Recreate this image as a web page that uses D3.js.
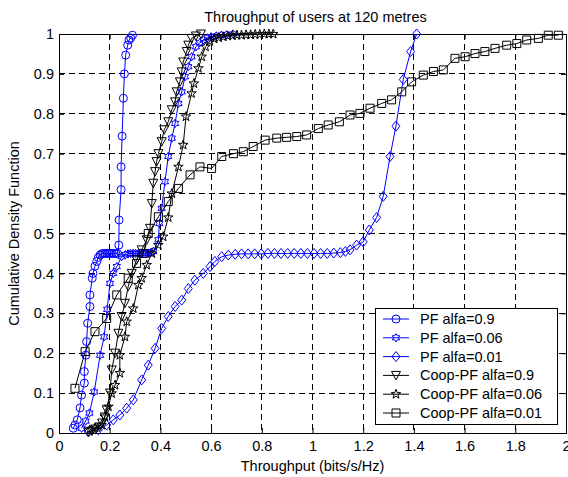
<!DOCTYPE html>
<html>
<head>
<meta charset="utf-8">
<script src="https://cdn.jsdelivr.net/npm/d3@7"></script>
<style>
body { margin: 0; background: #fff; }
text { font-family: "Liberation Sans", Arial, sans-serif; }
</style>
</head>
<body>
<div id="chart"></div>
<script>
// data
var xTicks = [0, 0.2, 0.4, 0.6, 0.8, 1, 1.2, 1.4, 1.6, 1.8, 2];
var yTicks = [0, 0.1, 0.2, 0.3, 0.4, 0.5, 0.6, 0.7, 0.8, 0.9, 1];

var pf09x = [0.056, 0.063, 0.072, 0.083, 0.089, 0.1, 0.1, 0.106, 0.109, 0.113, 0.122, 0.122, 0.131, 0.134, 0.142, 0.149, 0.155, 0.162,
  0.168, 0.175, 0.182, 0.189, 0.196, 0.203, 0.21, 0.217, 0.224, 0.231, 0.236,
  0.237, 0.245, 0.245, 0.249, 0.254, 0.258, 0.263, 0.271, 0.276, 0.283, 0.29];
var pf09y = [0.012, 0.02, 0.033, 0.063, 0.095, 0.125, 0.154, 0.195, 0.229, 0.275, 0.317, 0.346, 0.388, 0.4, 0.418, 0.43, 0.44, 0.446,
  0.449, 0.45, 0.45, 0.45, 0.45, 0.45, 0.45, 0.45, 0.45, 0.45, 0.471,
  0.534, 0.61, 0.667, 0.744, 0.839, 0.9, 0.947, 0.972, 0.985, 0.99, 0.997];

var pf006x = [0.089, 0.105, 0.12, 0.139, 0.162, 0.178, 0.19, 0.201, 0.214, 0.228, 0.247,
  0.262, 0.272, 0.282, 0.292, 0.302, 0.312, 0.322, 0.332, 0.342, 0.352, 0.362, 0.372,
  0.392, 0.396, 0.405, 0.418, 0.431, 0.445, 0.458, 0.471, 0.484, 0.497, 0.51, 0.523, 0.54,
  0.555, 0.57, 0.585, 0.6, 0.62, 0.64, 0.66, 0.687];
var pf006y = [0.012, 0.03, 0.05, 0.103, 0.195, 0.241, 0.31, 0.375, 0.4, 0.417, 0.442,
  0.447, 0.449, 0.45, 0.45, 0.45, 0.45, 0.45, 0.45, 0.45, 0.451, 0.452, 0.455,
  0.484, 0.525, 0.563, 0.63, 0.693, 0.739, 0.776, 0.826, 0.855, 0.893, 0.918, 0.943, 0.968,
  0.978, 0.985, 0.99, 0.993, 0.995, 0.997, 0.998, 1];

var pf001x = [0.116, 0.155, 0.188, 0.214, 0.24, 0.267, 0.293, 0.326, 0.352, 0.379, 0.405, 0.431, 0.458, 0.484,
  0.51, 0.536, 0.569, 0.596, 0.615, 0.642, 0.668, 0.695, 0.72, 0.746, 0.772, 0.798, 0.824, 0.85, 0.876,
  0.902, 0.928, 0.954, 0.98, 1.006, 1.032, 1.058, 1.084, 1.11, 1.13, 1.148, 1.174, 1.2, 1.224, 1.253,
  1.279, 1.306, 1.329, 1.358, 1.387, 1.411];
var pf001y = [0.003, 0.008, 0.02, 0.033, 0.045, 0.062, 0.083, 0.133, 0.17, 0.212, 0.262, 0.292, 0.317, 0.333,
  0.362, 0.383, 0.4, 0.417, 0.43, 0.442, 0.446, 0.448, 0.449, 0.449, 0.449, 0.449, 0.45, 0.45, 0.45,
  0.45, 0.45, 0.45, 0.45, 0.45, 0.45, 0.45, 0.451, 0.452, 0.455, 0.459, 0.471, 0.479, 0.509, 0.54,
  0.593, 0.693, 0.769, 0.886, 0.956, 1];

var coop09x = [0.115, 0.13, 0.145, 0.16, 0.17, 0.18, 0.188, 0.201, 0.208, 0.221, 0.234, 0.247, 0.26, 0.273,
  0.287, 0.306, 0.326, 0.346, 0.359, 0.366, 0.372, 0.379, 0.385, 0.392, 0.405, 0.415, 0.431, 0.445,
  0.458, 0.464, 0.477, 0.484, 0.49, 0.504, 0.51, 0.523, 0.54, 0.56];
var coop09y = [0.003, 0.005, 0.01, 0.015, 0.025, 0.04, 0.058, 0.1, 0.158, 0.2, 0.25, 0.292, 0.325, 0.367,
  0.4, 0.434, 0.459, 0.484, 0.513, 0.575, 0.626, 0.655, 0.68, 0.7, 0.73, 0.76, 0.78, 0.81,
  0.83, 0.855, 0.88, 0.905, 0.93, 0.956, 0.972, 0.989, 0.995, 1];

var coop006x = [0.122, 0.142, 0.168, 0.181, 0.195, 0.208, 0.221, 0.24, 0.24, 0.26, 0.267, 0.293, 0.313,
  0.326, 0.346, 0.366, 0.392, 0.411, 0.431, 0.445, 0.471, 0.49, 0.501, 0.523, 0.532, 0.55, 0.563,
  0.578, 0.595, 0.612, 0.63, 0.648, 0.666, 0.684, 0.702, 0.72, 0.738, 0.756, 0.774, 0.792, 0.81, 0.828, 0.845];
var coop006y = [0.008, 0.013, 0.02, 0.041, 0.066, 0.099, 0.12, 0.15, 0.195, 0.241, 0.279, 0.312, 0.371,
  0.388, 0.421, 0.45, 0.471, 0.492, 0.54, 0.6, 0.667, 0.722, 0.793, 0.851, 0.876, 0.914, 0.943,
  0.968, 0.982, 0.988, 0.991, 0.993, 0.995, 0.996, 0.997, 0.997, 0.998, 0.998, 0.999, 0.999, 1, 1, 1];

var coop001x = [0.063, 0.103, 0.142, 0.188, 0.228, 0.273, 0.306, 0.333, 0.352, 0.392, 0.431, 0.471, 0.517,
  0.556, 0.602, 0.642, 0.688, 0.727, 0.766, 0.813, 0.859, 0.898, 0.938, 0.977, 1.023, 1.062, 1.106,
  1.148, 1.187, 1.227, 1.273, 1.312, 1.352, 1.391, 1.437, 1.477, 1.516, 1.562, 1.602, 1.641, 1.68,
  1.72, 1.766, 1.806, 1.845, 1.891, 1.93, 1.97];
var coop001y = [0.112, 0.204, 0.254, 0.287, 0.346, 0.388, 0.425, 0.45, 0.5, 0.542, 0.58, 0.613, 0.647,
  0.667, 0.663, 0.693, 0.7, 0.705, 0.718, 0.734, 0.739, 0.741, 0.743, 0.747, 0.763, 0.772, 0.78,
  0.797, 0.801, 0.814, 0.826, 0.835, 0.855, 0.88, 0.897, 0.906, 0.91, 0.939, 0.943, 0.951, 0.956,
  0.964, 0.972, 0.976, 0.985, 0.989, 0.997, 0.997];

var seriesNames = ["PF alfa=0.9", "PF alfa=0.06", "PF alfa=0.01", "Coop-PF alfa=0.9", "Coop-PF alfa=0.06", "Coop-PF alfa=0.01"];

var series = [
  {name: seriesNames[0], xs: pf09x, ys: pf09y, color: "#0000ff", marker: "circle"},
  {name: seriesNames[1], xs: pf006x, ys: pf006y, color: "#0000ff", marker: "hexagram"},
  {name: seriesNames[2], xs: pf001x, ys: pf001y, color: "#0000ff", marker: "diamond"},
  {name: seriesNames[3], xs: coop09x, ys: coop09y, color: "#000000", marker: "triangle"},
  {name: seriesNames[4], xs: coop006x, ys: coop006y, color: "#000000", marker: "pentagram"},
  {name: seriesNames[5], xs: coop001x, ys: coop001y, color: "#000000", marker: "square"}
];

var fontSize = 14.5;

var margin = {top: 34, right: 2, bottom: 44, left: 59},
  width = 568 - margin.left - margin.right,
  height = 477 - margin.top - margin.bottom;

var svg = d3.select("#chart").append("svg")
  .attr("width", 568)
  .attr("height", 477);

var g = svg.append("g")
  .attr("transform", "translate(" + margin.left + "," + margin.top + ")");

var x = d3.scaleLinear().domain([0, 2]).range([0, width]);
var y = d3.scaleLinear().domain([0, 1]).range([height, 0]);

// marker paths centred on 0,0
function markerPath(type) {
  var p = d3.path();
  if (type == "circle") {
    p.arc(0, 0, 4, 0, 2 * Math.PI);
  } else if (type == "square") {
    p.rect(-4, -4, 8, 8);
  } else if (type == "diamond") {
    p.moveTo(0, -5); p.lineTo(4, 0); p.lineTo(0, 5); p.lineTo(-4, 0); p.closePath();
  } else if (type == "triangle") {
    p.moveTo(-4.5, -4); p.lineTo(4.5, -4); p.lineTo(0, 4.5); p.closePath();
  } else if (type == "hexagram") {
    var r = 4.2;
    for (var k = 0; k < 12; k++) {
      var rr = (k % 2 == 0) ? r : r / Math.sqrt(3);
      var a = -Math.PI / 2 + k * Math.PI / 6;
      if (k == 0) p.moveTo(rr * Math.cos(a), rr * Math.sin(a));
      else p.lineTo(rr * Math.cos(a), rr * Math.sin(a));
    }
    p.closePath();
  } else if (type == "pentagram") {
    var R = 5, ri = 2;
    for (var k = 0; k < 10; k++) {
      var rr = (k % 2 == 0) ? R : ri;
      var a = -Math.PI / 2 + k * Math.PI / 5;
      if (k == 0) p.moveTo(rr * Math.cos(a), rr * Math.sin(a));
      else p.lineTo(rr * Math.cos(a), rr * Math.sin(a));
    }
    p.closePath();
  }
  return p.toString();
}

// grid
g.append("g").selectAll("line.gx")
  .data(xTicks.slice(1, -1))
  .enter().append("line")
  .attr("x1", function(d) { return x(d); })
  .attr("x2", function(d) { return x(d); })
  .attr("y1", 0).attr("y2", height)
  .attr("stroke", "#000").attr("stroke-width", 1)
  .attr("stroke-dasharray", "6,4")
  .attr("shape-rendering", "crispEdges");

g.append("g").selectAll("line.gy")
  .data(yTicks.slice(1, -1))
  .enter().append("line")
  .attr("y1", function(d) { return y(d); })
  .attr("y2", function(d) { return y(d); })
  .attr("x1", 0).attr("x2", width)
  .attr("stroke", "#000").attr("stroke-width", 1)
  .attr("stroke-dasharray", "6,4")
  .attr("shape-rendering", "crispEdges");

// axes with inward ticks, box on
g.append("g")
  .attr("transform", "translate(0," + height + ")")
  .call(d3.axisBottom(x).tickValues(xTicks).tickSizeInner(-5).tickSizeOuter(0).tickPadding(8)
    .tickFormat(function(d) { return d3.format("~g")(d); }));
g.append("g")
  .call(d3.axisTop(x).tickValues(xTicks).tickSizeInner(-5).tickSizeOuter(0).tickFormat(""));

g.append("g")
  .call(d3.axisLeft(y).tickValues(yTicks).tickSizeInner(-5).tickSizeOuter(0).tickPadding(5)
    .tickFormat(function(d) { return d3.format("~g")(d); }));
g.append("g")
  .attr("transform", "translate(" + width + ",0)")
  .call(d3.axisRight(y).tickValues(yTicks).tickSizeInner(-5).tickSizeOuter(0).tickFormat(""));

g.selectAll(".domain").remove();
g.selectAll(".tick text").attr("font-size", fontSize).attr("fill", "#000")
  .attr("font-family", "'Liberation Sans', Arial, sans-serif");
g.selectAll(".tick line").attr("stroke", "#000");

g.append("rect")
  .attr("width", width).attr("height", height)
  .attr("fill", "none").attr("stroke", "#000").attr("stroke-width", 1)
  .attr("shape-rendering", "crispEdges");

// lines and markers
var line = d3.line()
  .x(function(d) { return x(d[0]); })
  .y(function(d) { return y(d[1]); });

series.forEach(function(s) {
  var pts = s.xs.map(function(v, i) { return [v, s.ys[i]]; });
  g.append("path")
    .datum(pts)
    .attr("fill", "none")
    .attr("stroke", s.color)
    .attr("stroke-width", 1)
    .attr("d", line);
  g.append("g").selectAll("path")
    .data(pts)
    .enter().append("path")
    .attr("transform", function(d) { return "translate(" + x(d[0]) + "," + y(d[1]) + ")"; })
    .attr("d", markerPath(s.marker))
    .attr("fill", "none")
    .attr("stroke", s.color)
    .attr("stroke-width", 1);
});

// legend
var legend = g.append("g")
  .attr("transform", "translate(" + (375 - margin.left) + "," + (308 - margin.top) + ")");
legend.append("rect")
  .attr("width", 182).attr("height", 116)
  .attr("fill", "#fff").attr("stroke", "#000").attr("stroke-width", 1)
  .attr("shape-rendering", "crispEdges");
series.forEach(function(s, i) {
  var yy = 11 + i * 18.8;
  legend.append("line")
    .attr("x1", 8).attr("x2", 34).attr("y1", yy).attr("y2", yy)
    .attr("stroke", s.color).attr("stroke-width", 1);
  legend.append("path")
    .attr("transform", "translate(21," + yy + ")")
    .attr("d", markerPath(s.marker))
    .attr("fill", "none").attr("stroke", s.color);
  legend.append("text")
    .attr("x", 45).attr("y", yy).attr("dy", "0.35em")
    .attr("font-size", fontSize)
    .text(s.name);
});

// title and axis labels
svg.append("text")
  .attr("x", margin.left + width / 2 + 3).attr("y", 22)
  .attr("text-anchor", "middle").attr("font-size", fontSize)
  .text("Throughput of users at 120 metres");

svg.append("text")
  .attr("x", margin.left + width / 2).attr("y", 471)
  .attr("text-anchor", "middle").attr("font-size", fontSize)
  .text("Throughput (bits/s/Hz)");

svg.append("text")
  .attr("transform", "rotate(-90)")
  .attr("x", -(margin.top + height / 2)).attr("y", 19)
  .attr("text-anchor", "middle").attr("font-size", fontSize)
  .text("Cumulative Density Function");
</script>
</body>
</html>
